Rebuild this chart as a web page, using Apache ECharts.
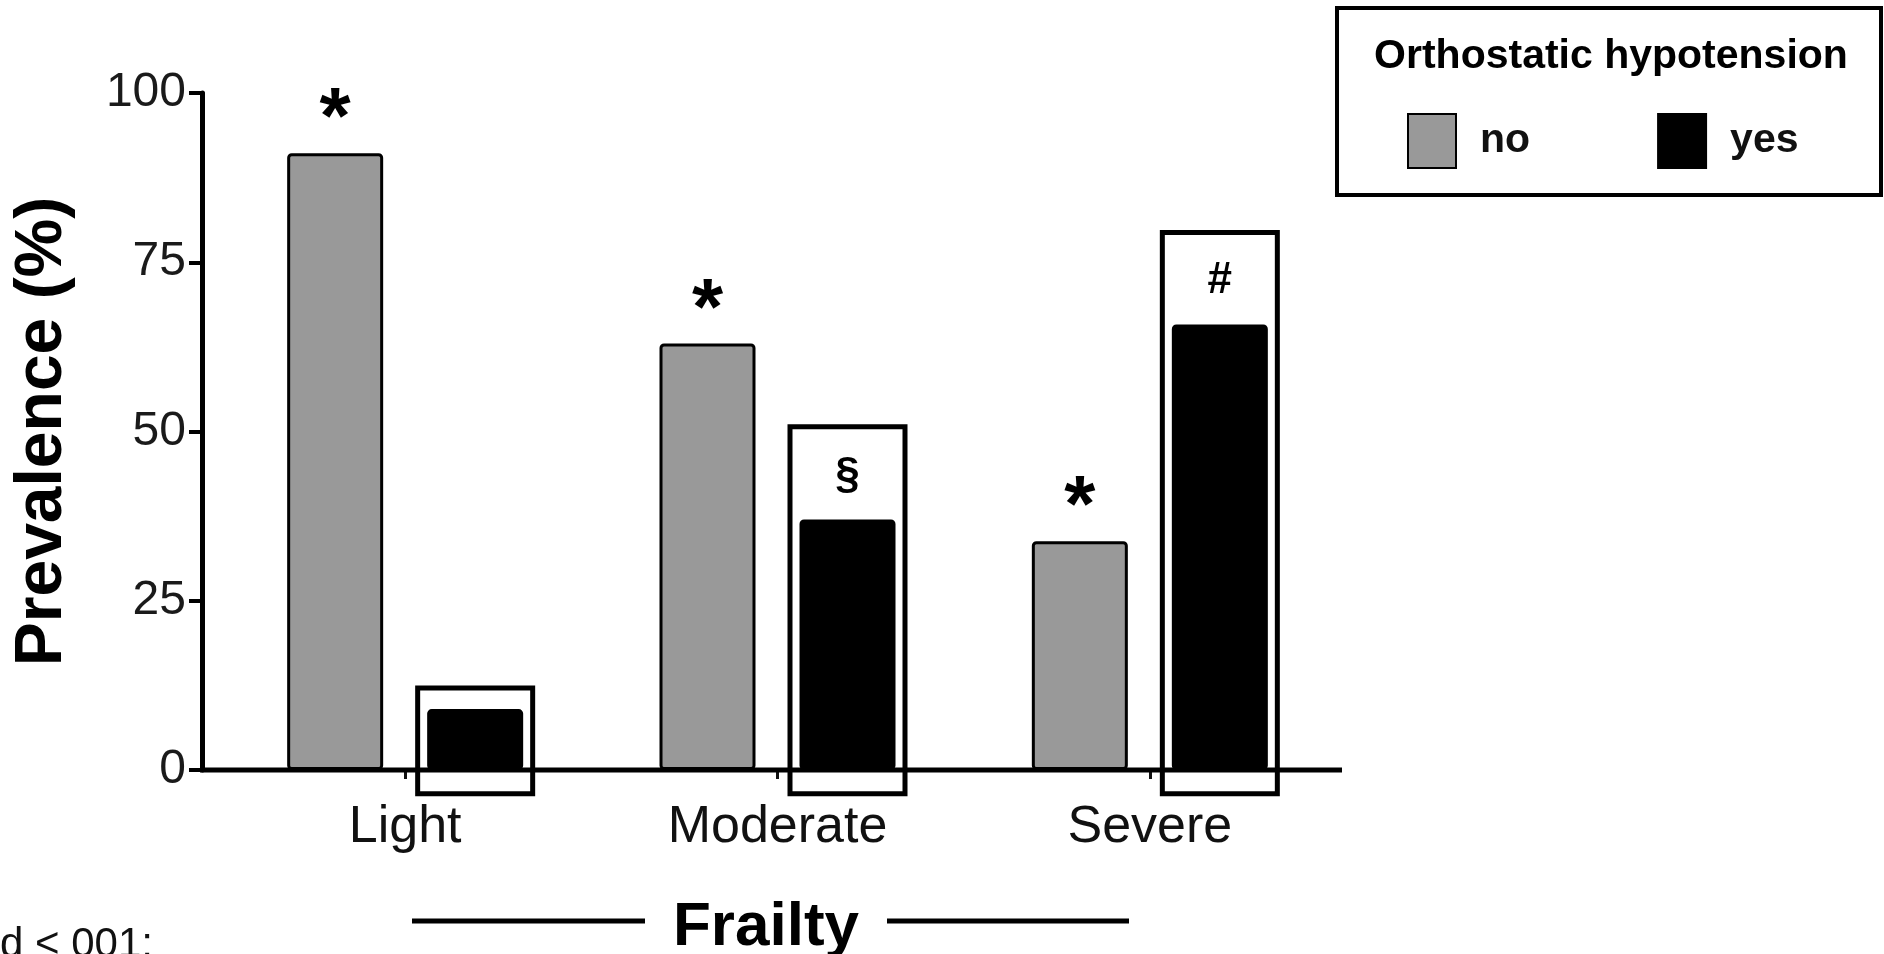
<!DOCTYPE html>
<html>
<head>
<meta charset="utf-8">
<script src="https://cdn.jsdelivr.net/npm/echarts@6/dist/echarts.min.js"></script>
<style>
html,body{margin:0;padding:0;background:#fff;}
#chart{width:1884px;height:954px;}
</style>
</head>
<body>
<div id="chart"></div>
<script>
// ---- data ----
var categories = ['Light', 'Moderate', 'Severe'];
var seriesNames = ['no', 'yes'];
var noValues = [91.1, 63.0, 33.8];
var yesValues = [9.0, 37.0, 65.8];
var noMarks = ['*', '*', '*'];
var yesMarks = ['', '\u00a7', '#'];
var boxTop = [12.1, 50.7, 79.4];
var boxBottom = [-3.5, -3.5, -3.5];
var yTicks = [0, 25, 50, 75, 100];
var legendTitle = 'Orthostatic hypotension';
var xTitle = 'Frailty';
var footText = 'd < 001;';

// ---- layout constants ----
var FONT = 'Liberation Sans, Arial, Helvetica, sans-serif';
var BAR_W = 96;
var BAR_GAP = 44;
var GRID = {left: 219, top: 93, width: 1117, height: 677};

var chart = echarts.init(document.getElementById('chart'), null, {renderer: 'canvas'});

var option = {
  backgroundColor: '#ffffff',
  animation: false,
  grid: GRID,
  legend: {
    data: seriesNames,
    left: 1402,
    top: 108,
    orient: 'horizontal',
    icon: 'rect',
    itemWidth: 48,
    itemHeight: 54,
    itemGap: 127,
    selectedMode: false,
    textStyle: {fontFamily: FONT, fontSize: 41, fontWeight: 'bold', color: '#111', padding: [0, 0, 0, 19]}
  },
  xAxis: {
    type: 'category',
    data: categories,
    axisLine: {show: false},
    axisTick: {show: true, alignWithLabel: true, length: 9, lineStyle: {color: '#111', width: 3}},
    axisLabel: {fontFamily: FONT, fontSize: 52, color: '#111', margin: 32}
  },
  yAxis: {
    type: 'value',
    min: 0, max: 100, interval: 25,
    offset: 17,
    splitLine: {show: false},
    axisLine: {show: true, lineStyle: {color: '#000', width: 5}},
    axisTick: {show: true, length: 13, lineStyle: {color: '#000', width: 4}},
    axisLabel: {fontFamily: FONT, fontSize: 48, color: '#1a1a1a', margin: 16,
      formatter: function (v) { return yTicks.indexOf(v) >= 0 ? String(v) : ''; }},
    name: 'Prevalence (%)',
    nameLocation: 'middle',
    nameRotate: 90,
    nameGap: 126,
    nameTextStyle: {fontFamily: FONT, fontSize: 66, fontWeight: 'bold', color: '#000'}
  },
  series: [
    {
      type: 'custom',
      name: 'box',
      silent: true,
      z: 1,
      clip: false,
      data: categories.map(function (c, i) { return [i, boxTop[i], boxBottom[i]]; }),
      renderItem: function (params, api) {
        var top = api.coord([api.value(0), api.value(1)]);
        var bot = api.coord([api.value(0), api.value(2)]);
        var cx = top[0] + BAR_GAP / 2 + BAR_W / 2;
        var w = BAR_W + 19;
        return {
          type: 'rect',
          shape: {x: cx - w / 2, y: top[1], width: w, height: bot[1] - top[1]},
          style: {fill: 'none', stroke: '#000', lineWidth: 5}
        };
      }
    },
    {
      type: 'bar',
      name: 'no',
      data: noValues,
      barWidth: BAR_W,
      barGap: (BAR_GAP / BAR_W * 100) + '%',
      z: 3,
      itemStyle: {color: '#999999', borderColor: '#000', borderWidth: 3, borderRadius: 3},
      label: {
        show: true, position: 'top', distance: 0, offset: [0, 8],
        fontFamily: FONT, fontSize: 80, fontWeight: 'bold', color: '#000',
        formatter: function (p) { return noMarks[p.dataIndex]; }
      }
    },
    {
      type: 'bar',
      name: 'yes',
      data: yesValues,
      barWidth: BAR_W,
      z: 3,
      itemStyle: {color: '#000', borderColor: '#000', borderWidth: 3, borderRadius: 3},
      label: {
        show: true, position: 'top', distance: 22,
        fontFamily: FONT, fontSize: 44, fontWeight: 'bold', color: '#000',
        formatter: function (p) { return yesMarks[p.dataIndex]; }
      }
    }
  ],
  graphic: [
    {type: 'rect', z: 0, shape: {x: 1337, y: 8, width: 544, height: 187}, style: {fill: '#fff', stroke: '#000', lineWidth: 4}},
    {type: 'text', z: 10, x: 1611, y: 57, style: {text: legendTitle, fontFamily: FONT, fontSize: 41, fontWeight: 'bold', fill: '#000', textAlign: 'center', textVerticalAlign: 'middle'}},
    {type: 'text', z: 10, x: 766, y: 928, style: {text: xTitle, fontFamily: FONT, fontSize: 62, fontWeight: 'bold', fill: '#000', textAlign: 'center', textVerticalAlign: 'middle'}},
    {type: 'line', z: 10, shape: {x1: 412, y1: 921, x2: 645, y2: 921}, style: {stroke: '#000', lineWidth: 5}},
    {type: 'line', z: 10, shape: {x1: 887, y1: 921, x2: 1129, y2: 921}, style: {stroke: '#000', lineWidth: 5}},
    {type: 'text', z: 10, x: 0, y: 924, style: {text: footText, fontFamily: FONT, fontSize: 42, fill: '#111', textAlign: 'left', textVerticalAlign: 'top'}}
  ]
};
chart.setOption(option);

// baseline (x axis line) drawn through the library's y scale, extended to meet the offset y axis
var y0 = chart.convertToPixel({yAxisIndex: 0}, 0);
var gfx = option.graphic.slice();
gfx.push({type: 'line', z: 2, shape: {x1: GRID.left - 19, y1: y0, x2: GRID.left + GRID.width + 6, y2: y0}, style: {stroke: '#000', lineWidth: 5}});
chart.setOption({graphic: gfx});
</script>
</body>
</html>
